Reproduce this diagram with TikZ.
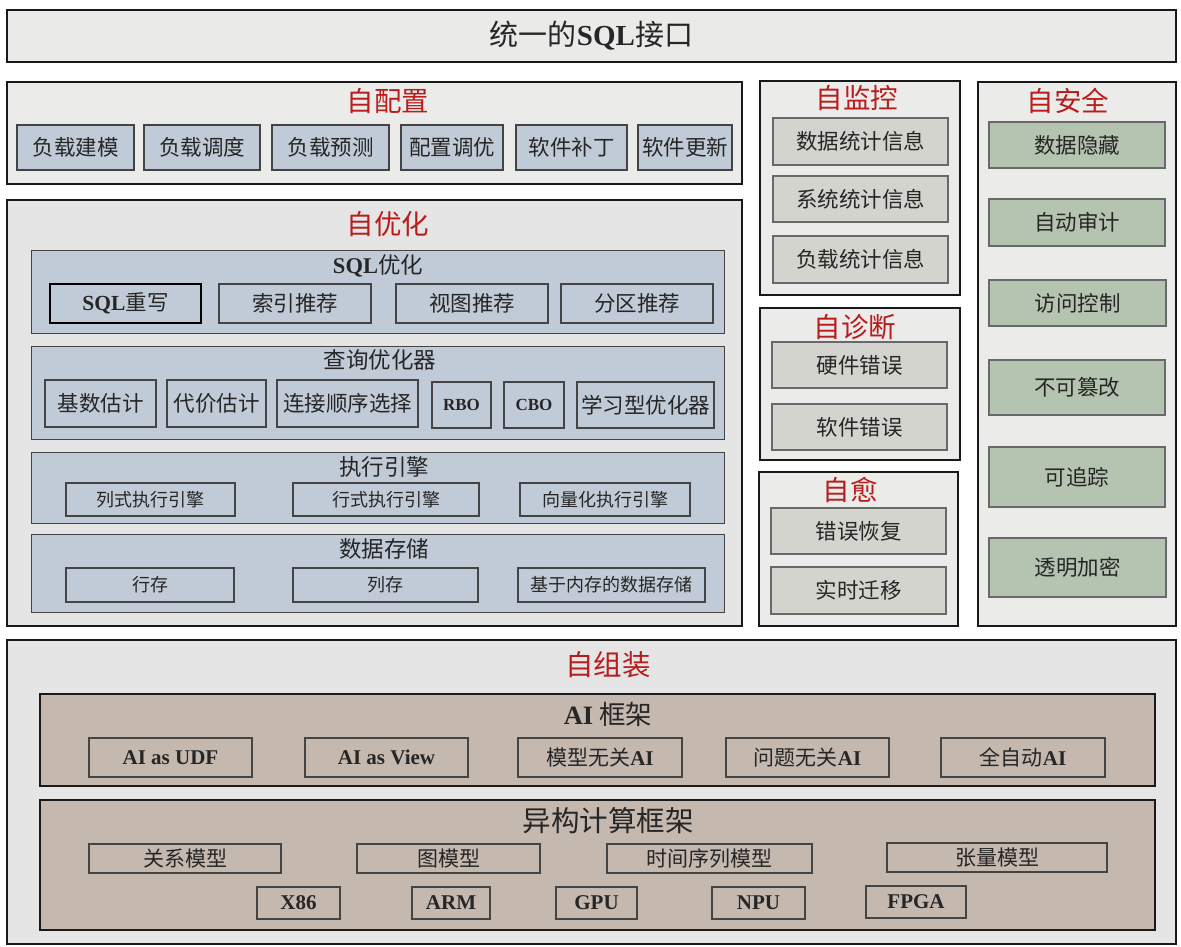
\documentclass[tikz,border=0pt]{standalone}
\usepackage{fontspec}
\setmainfont{Noto Sans CJK SC}
\newfontfamily\lat{Liberation Serif}
\definecolor{topfill}{HTML}{EAEAE8}
\definecolor{lightfill}{HTML}{EBEBE9}
\definecolor{midfill}{HTML}{E5E5E5}
\definecolor{bluefill}{HTML}{C1CBD7}
\definecolor{grayfill}{HTML}{D4D4CE}
\definecolor{greenfill}{HTML}{B5C4B1}
\definecolor{taupe}{HTML}{C5B8AF}
\definecolor{titlered}{HTML}{B81C1C}
\definecolor{edge}{HTML}{444444}
\newcommand\mybox[7]{\node[#6, minimum width={(#4-#2)*1pt}, minimum height={(#5-#3)*1pt}] (#1) at ({(#2+#4)/2},{(#3+#5)/2}) {#7};}
\tikzset{
  base/.style={inner sep=0pt, outer sep=0pt, text=black!85},
  outer/.style={base, draw=black!90, line width=2.4pt, fill=lightfill},
  panel/.style={base, draw=edge, line width=1pt, fill=bluefill},
  bchild/.style={base, draw=edge, line width=1.1pt, fill=bluefill, font=\fontsize{21.5}{23}\selectfont},
  gchild/.style={base, draw=edge!80, line width=1.2pt, fill=grayfill, font=\fontsize{21.5}{23}\selectfont},
  schild/.style={base, draw=edge!80, line width=1.2pt, fill=greenfill, font=\fontsize{21.5}{23}\selectfont},
  tpanel/.style={base, draw=black!90, line width=2.4pt, fill=taupe},
  tchild/.style={base, draw=edge, line width=1.1pt, fill=taupe, font=\fontsize{21}{23}\selectfont},
  redtitle/.style={inner sep=0pt, text=titlered, font=\fontsize{27.5}{29}\selectfont},
  ptitle/.style={inner sep=0pt, text=black!85, font=\fontsize{22.5}{24}\selectfont},
}
\begin{document}
\begin{tikzpicture}[x=1pt,y=-1pt]
\useasboundingbox (0,0) rectangle (1181,947);
\fill[white] (0,0) rectangle (1181,947);
% top
\mybox{top}{7}{10}{1176}{62}{outer, fill=topfill, font=\fontsize{29}{31}\selectfont}{统一的{\lat\bfseries SQL}接口}
% self config
\mybox{cfg}{7}{82}{742}{184}{outer}{}
\node[redtitle] (cfgt) at (388,101) {自配置};
\mybox{c1}{17}{125}{134}{170}{bchild}{负载建模}
\mybox{c2}{144}{125}{260}{170}{bchild}{负载调度}
\mybox{c3}{272}{125}{389}{170}{bchild}{负载预测}
\mybox{c4}{401}{125}{503}{170}{bchild}{配置调优}
\mybox{c5}{516}{125}{627}{170}{bchild}{软件补丁}
\mybox{c6}{638}{125}{732}{170}{bchild}{软件更新}
% self optimize
\mybox{opt}{7}{200}{742}{626}{outer, fill=midfill}{}
\node[redtitle] (optt) at (388,224) {自优化};
\mybox{p1}{31}{250}{724}{333}{panel}{}
\node[ptitle] (p1t) at (378,266) {{\lat\bfseries SQL}优化};
\mybox{s1}{50}{284}{201}{323}{bchild, draw=black, line width=1.4pt}{{\lat\bfseries SQL}重写}
\mybox{s2}{219}{284}{371}{323}{bchild}{索引推荐}
\mybox{s3}{396}{284}{548}{323}{bchild}{视图推荐}
\mybox{s4}{561}{284}{713}{323}{bchild}{分区推荐}
\mybox{p2}{31}{346}{724}{439}{panel}{}
\node[ptitle] (p2t) at (380,360) {查询优化器};
\mybox{q1}{45}{380}{156}{427}{bchild}{基数估计}
\mybox{q2}{167}{380}{266}{427}{bchild}{代价估计}
\mybox{q3}{277}{380}{418}{427}{bchild}{连接顺序选择}
\mybox{q4}{432}{382}{491}{428}{bchild}{\lat\bfseries\fontsize{17}{19}\selectfont RBO}
\mybox{q5}{504}{382}{564}{428}{bchild}{\lat\bfseries\fontsize{17}{19}\selectfont CBO}
\mybox{q6}{577}{382}{714}{428}{bchild}{学习型优化器}
\mybox{p3}{31}{452}{724}{523}{panel}{}
\node[ptitle] (p3t) at (384,467) {执行引擎};
\mybox{e1}{66}{483}{235}{516}{bchild, font=\fontsize{18}{20}\selectfont}{列式执行引擎}
\mybox{e2}{293}{483}{479}{516}{bchild, font=\fontsize{18}{20}\selectfont}{行式执行引擎}
\mybox{e3}{520}{483}{690}{516}{bchild, font=\fontsize{18}{20}\selectfont}{向量化执行引擎}
\mybox{p4}{31}{534}{724}{612}{panel}{}
\node[ptitle] (p4t) at (384,549) {数据存储};
\mybox{d1}{66}{568}{234}{602}{bchild, font=\fontsize{18}{20}\selectfont}{行存}
\mybox{d2}{293}{568}{478}{602}{bchild, font=\fontsize{18}{20}\selectfont}{列存}
\mybox{d3}{518}{568}{705}{602}{bchild, font=\fontsize{18}{20}\selectfont}{基于内存的数据存储}
% self monitor
\mybox{mon}{760}{81}{960}{295}{outer}{}
\node[redtitle] (mont) at (857,98) {自监控};
\mybox{m1}{773}{118}{948}{165}{gchild}{数据统计信息}
\mybox{m2}{773}{176}{948}{222}{gchild}{系统统计信息}
\mybox{m3}{773}{236}{948}{283}{gchild}{负载统计信息}
% self diagnose
\mybox{dia}{760}{308}{960}{460}{outer}{}
\node[redtitle] (diat) at (855,327) {自诊断};
\mybox{g1}{772}{342}{947}{388}{gchild}{硬件错误}
\mybox{g2}{772}{404}{947}{450}{gchild}{软件错误}
% self heal
\mybox{hea}{759}{472}{958}{626}{outer}{}
\node[redtitle] (heat) at (850,490) {自愈};
\mybox{h1}{771}{508}{946}{554}{gchild}{错误恢复}
\mybox{h2}{771}{567}{946}{614}{gchild}{实时迁移}
% self security
\mybox{sec}{978}{82}{1176}{626}{outer}{}
\node[redtitle] (sect) at (1068,101) {自安全};
\mybox{a1}{989}{122}{1165}{168}{schild}{数据隐藏}
\mybox{a2}{989}{199}{1165}{246}{schild}{自动审计}
\mybox{a3}{989}{280}{1166}{326}{schild}{访问控制}
\mybox{a4}{989}{360}{1165}{415}{schild}{不可篡改}
\mybox{a5}{989}{447}{1165}{507}{schild}{可追踪}
\mybox{a6}{989}{538}{1166}{597}{schild}{透明加密}
% self assemble
\mybox{asm}{7}{640}{1176}{944}{outer, fill=midfill, line width=1.6pt}{}
\node[redtitle, font=\fontsize{28.5}{30}\selectfont] (asmt) at (608,665) {自组装};
\mybox{ai}{40}{694}{1155}{786}{tpanel}{}
\node[ptitle, font=\fontsize{26.5}{28}\selectfont] (ait) at (608,714) {{\lat\bfseries AI} 框架};
\mybox{f1}{89}{738}{252}{777}{tchild}{\lat\bfseries AI as UDF}
\mybox{f2}{305}{738}{468}{777}{tchild}{\lat\bfseries AI as View}
\mybox{f3}{518}{738}{682}{777}{tchild}{模型无关{\lat\bfseries AI}}
\mybox{f4}{726}{738}{889}{777}{tchild}{问题无关{\lat\bfseries AI}}
\mybox{f5}{941}{738}{1105}{777}{tchild}{全自动{\lat\bfseries AI}}
\mybox{het}{40}{800}{1155}{930}{tpanel}{}
\node[ptitle, font=\fontsize{28.5}{30}\selectfont] (hett) at (608,821) {异构计算框架};
\mybox{r1}{89}{844}{281}{873}{tchild}{关系模型}
\mybox{r2}{357}{844}{540}{873}{tchild}{图模型}
\mybox{r3}{607}{844}{812}{873}{tchild}{时间序列模型}
\mybox{r4}{887}{843}{1107}{872}{tchild}{张量模型}
\mybox{h86}{257}{887}{340}{919}{tchild}{\lat\bfseries X86}
\mybox{harm}{412}{887}{490}{919}{tchild}{\lat\bfseries ARM}
\mybox{hgpu}{556}{887}{637}{919}{tchild}{\lat\bfseries GPU}
\mybox{hnpu}{712}{887}{805}{919}{tchild}{\lat\bfseries NPU}
\mybox{hfpga}{866}{886}{966}{918}{tchild}{\lat\bfseries FPGA}
\end{tikzpicture}
\end{document}
